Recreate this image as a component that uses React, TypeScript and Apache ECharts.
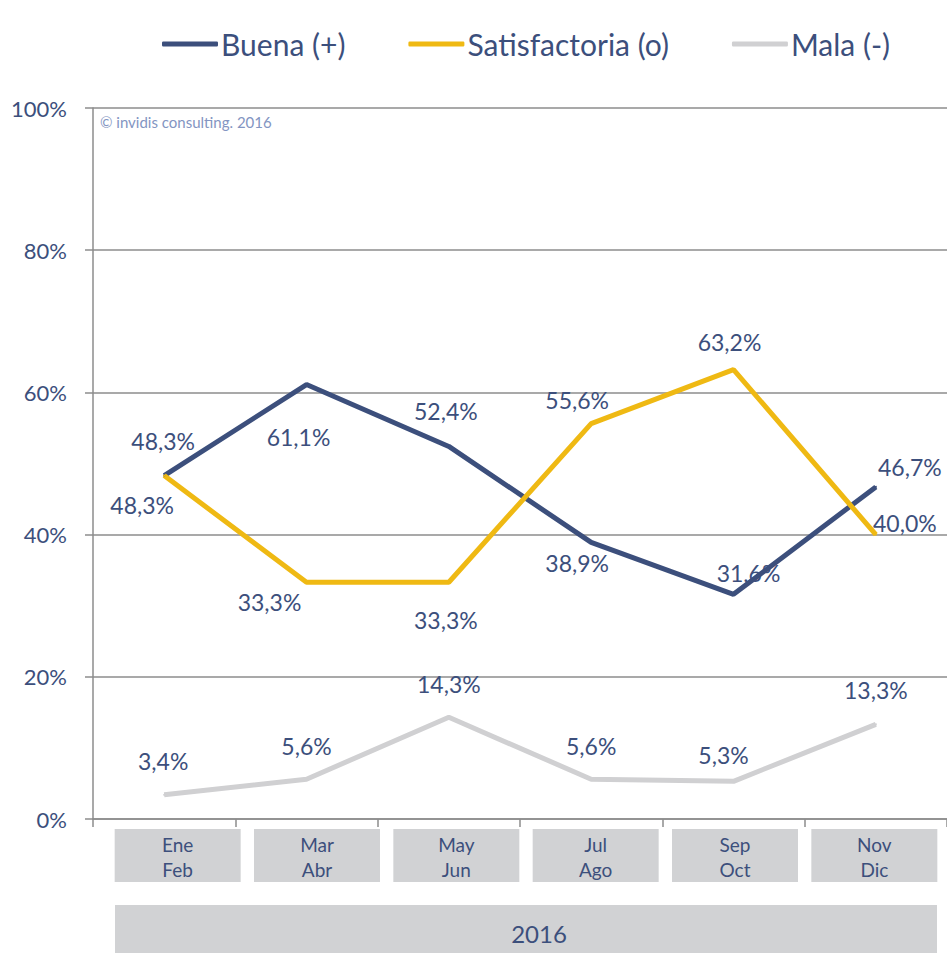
import React, { useEffect, useRef } from "react";
import * as echarts from "echarts";

const categories = ["Ene\nFeb", "Mar\nAbr", "May\nJun", "Jul\nAgo", "Sep\nOct", "Nov\nDic"];
const yearLabel = ["2016"];
const seriesNames = ["Buena (+)", "Satisfactoria (o)", "Mala (-)"];
const buena = [48.3, 61.1, 52.4, 38.9, 31.6, 46.7];
const satisfactoria = [48.3, 33.3, 33.3, 55.6, 63.2, 40.0];
const mala = [3.4, 5.6, 14.3, 5.6, 5.3, 13.3];
const yTicks = [0, 20, 40, 60, 80, 100];

// label offsets (style) for each point, relative to point centre
const buenaOffsets = [[-1, -35], [-8, 52], [-3, -35], [-14, 21], [15, -21], [34, -20]];
const satOffsets = [[-22, 29], [-37, 20], [-3, 38], [-14, -24], [-4, -28], [29, -12]];
const malaOffsets = [[-1, -34], [0, -33], [0, -33], [0, -33], [-10, -26], [0, -34]];

const TEXT = "#3c4f7c";
const FONT = "Lato";

function fmt(v: number) {
  return v.toFixed(1).replace(".", ",") + "%";
}

function buildData(vals: number[], offs: number[][]) {
  return vals.map((v, i) => ({
    value: v,
    label: { offset: offs[i] },
  }));
}

export default function App() {
  const ref = useRef<HTMLDivElement>(null);
  useEffect(() => {
    document.body.style.margin = "0";
    if (!ref.current) return;
    const chart = echarts.init(ref.current, undefined, { renderer: "svg" });
    const lineSeries = (name: string, vals: number[], offs: number[][], color: string) => ({
      name,
      type: "line",
      xAxisIndex: 0,
      yAxisIndex: 0,
      data: buildData(vals, offs),
      symbol: "circle",
      symbolSize: 2,
      showSymbol: true,
      itemStyle: { color },
      lineStyle: { color, width: 5 },
      label: {
        show: true,
        position: "inside",
        color: TEXT,
        fontFamily: FONT,
        fontSize: 23,
        formatter: (p: any) => fmt(p.value),
      },
      emphasis: { disabled: true },
    });
    chart.setOption({
      animation: false,
      textStyle: { fontFamily: FONT },
      legend: {
        top: 24,
        left: 157,
        icon: "roundRect",
        itemWidth: 56,
        itemHeight: 5,
        itemGap: 63,
        textStyle: { color: TEXT, fontSize: 30, fontFamily: FONT, padding: [0, 0, 0, -2] },
        data: seriesNames,
      },
      graphic: [
        {
          type: "text",
          left: 100,
          top: 114,
          style: {
            text: "© invidis consulting. 2016",
            fill: "#8395c2",
            fontSize: 15,
            fontFamily: FONT,
          },
        },
      ],
      grid: [
        { left: 93, right: 0, top: 108, bottom: 134, containLabel: false },
        { left: 108, width: 836, top: 820, height: 1 },
        { left: 115, width: 822, top: 904, height: 1 },
      ],
      xAxis: [
        {
          type: "category",
          gridIndex: 0,
          data: categories,
          boundaryGap: true,
          axisLine: { show: true, lineStyle: { color: "#8c8c8c", width: 1.5 } },
          axisTick: { show: true, length: 8, lineStyle: { color: "#8c8c8c", width: 1.5 } },
          axisLabel: { show: false },
        },
        {
          type: "category",
          gridIndex: 1,
          data: categories,
          axisLine: { show: false },
          axisTick: { show: false },
          axisLabel: {
            interval: 0,
            margin: 8,
            color: TEXT,
            fontFamily: FONT,
            fontSize: 19,
            backgroundColor: "#d1d2d4",
            width: 126,
            height: 50,
            lineHeight: 25,
            padding: [3, 0, 0, 0],
            align: "center",
          },
        },
        {
          type: "category",
          gridIndex: 2,
          data: yearLabel,
          axisLine: { show: false },
          axisTick: { show: false },
          axisLabel: {
            interval: 0,
            margin: 0,
            color: TEXT,
            fontFamily: FONT,
            fontSize: 24,
            backgroundColor: "#d1d2d4",
            width: 796,
            height: 40,
            lineHeight: 40,
            padding: [8, 0, 0, 26],
            align: "center",
          },
        },
      ],
      yAxis: [
        {
          type: "value",
          gridIndex: 0,
          min: yTicks[0],
          max: yTicks[yTicks.length - 1],
          interval: 20,
          axisLine: { show: true, lineStyle: { color: "#8c8c8c", width: 1.5 } },
          axisTick: { show: true, length: 8, lineStyle: { color: "#8c8c8c", width: 1.5 } },
          splitLine: { show: true, lineStyle: { color: "#8c8c8c", width: 1.5 } },
          axisLabel: {
            margin: 26,
            color: TEXT,
            fontFamily: FONT,
            fontSize: 22,
            formatter: "{value}%",
          },
        },
        { type: "value", gridIndex: 1, show: false },
        { type: "value", gridIndex: 2, show: false },
      ],
      series: [
        lineSeries(seriesNames[0], buena, buenaOffsets, "#3c4f7c"),
        lineSeries(seriesNames[1], satisfactoria, satOffsets, "#efb913"),
        lineSeries(seriesNames[2], mala, malaOffsets, "#d0d0d2"),
      ],
    });
    return () => chart.dispose();
  }, []);
  return <div ref={ref} style={{ width: 947, height: 953 }} />;
}
